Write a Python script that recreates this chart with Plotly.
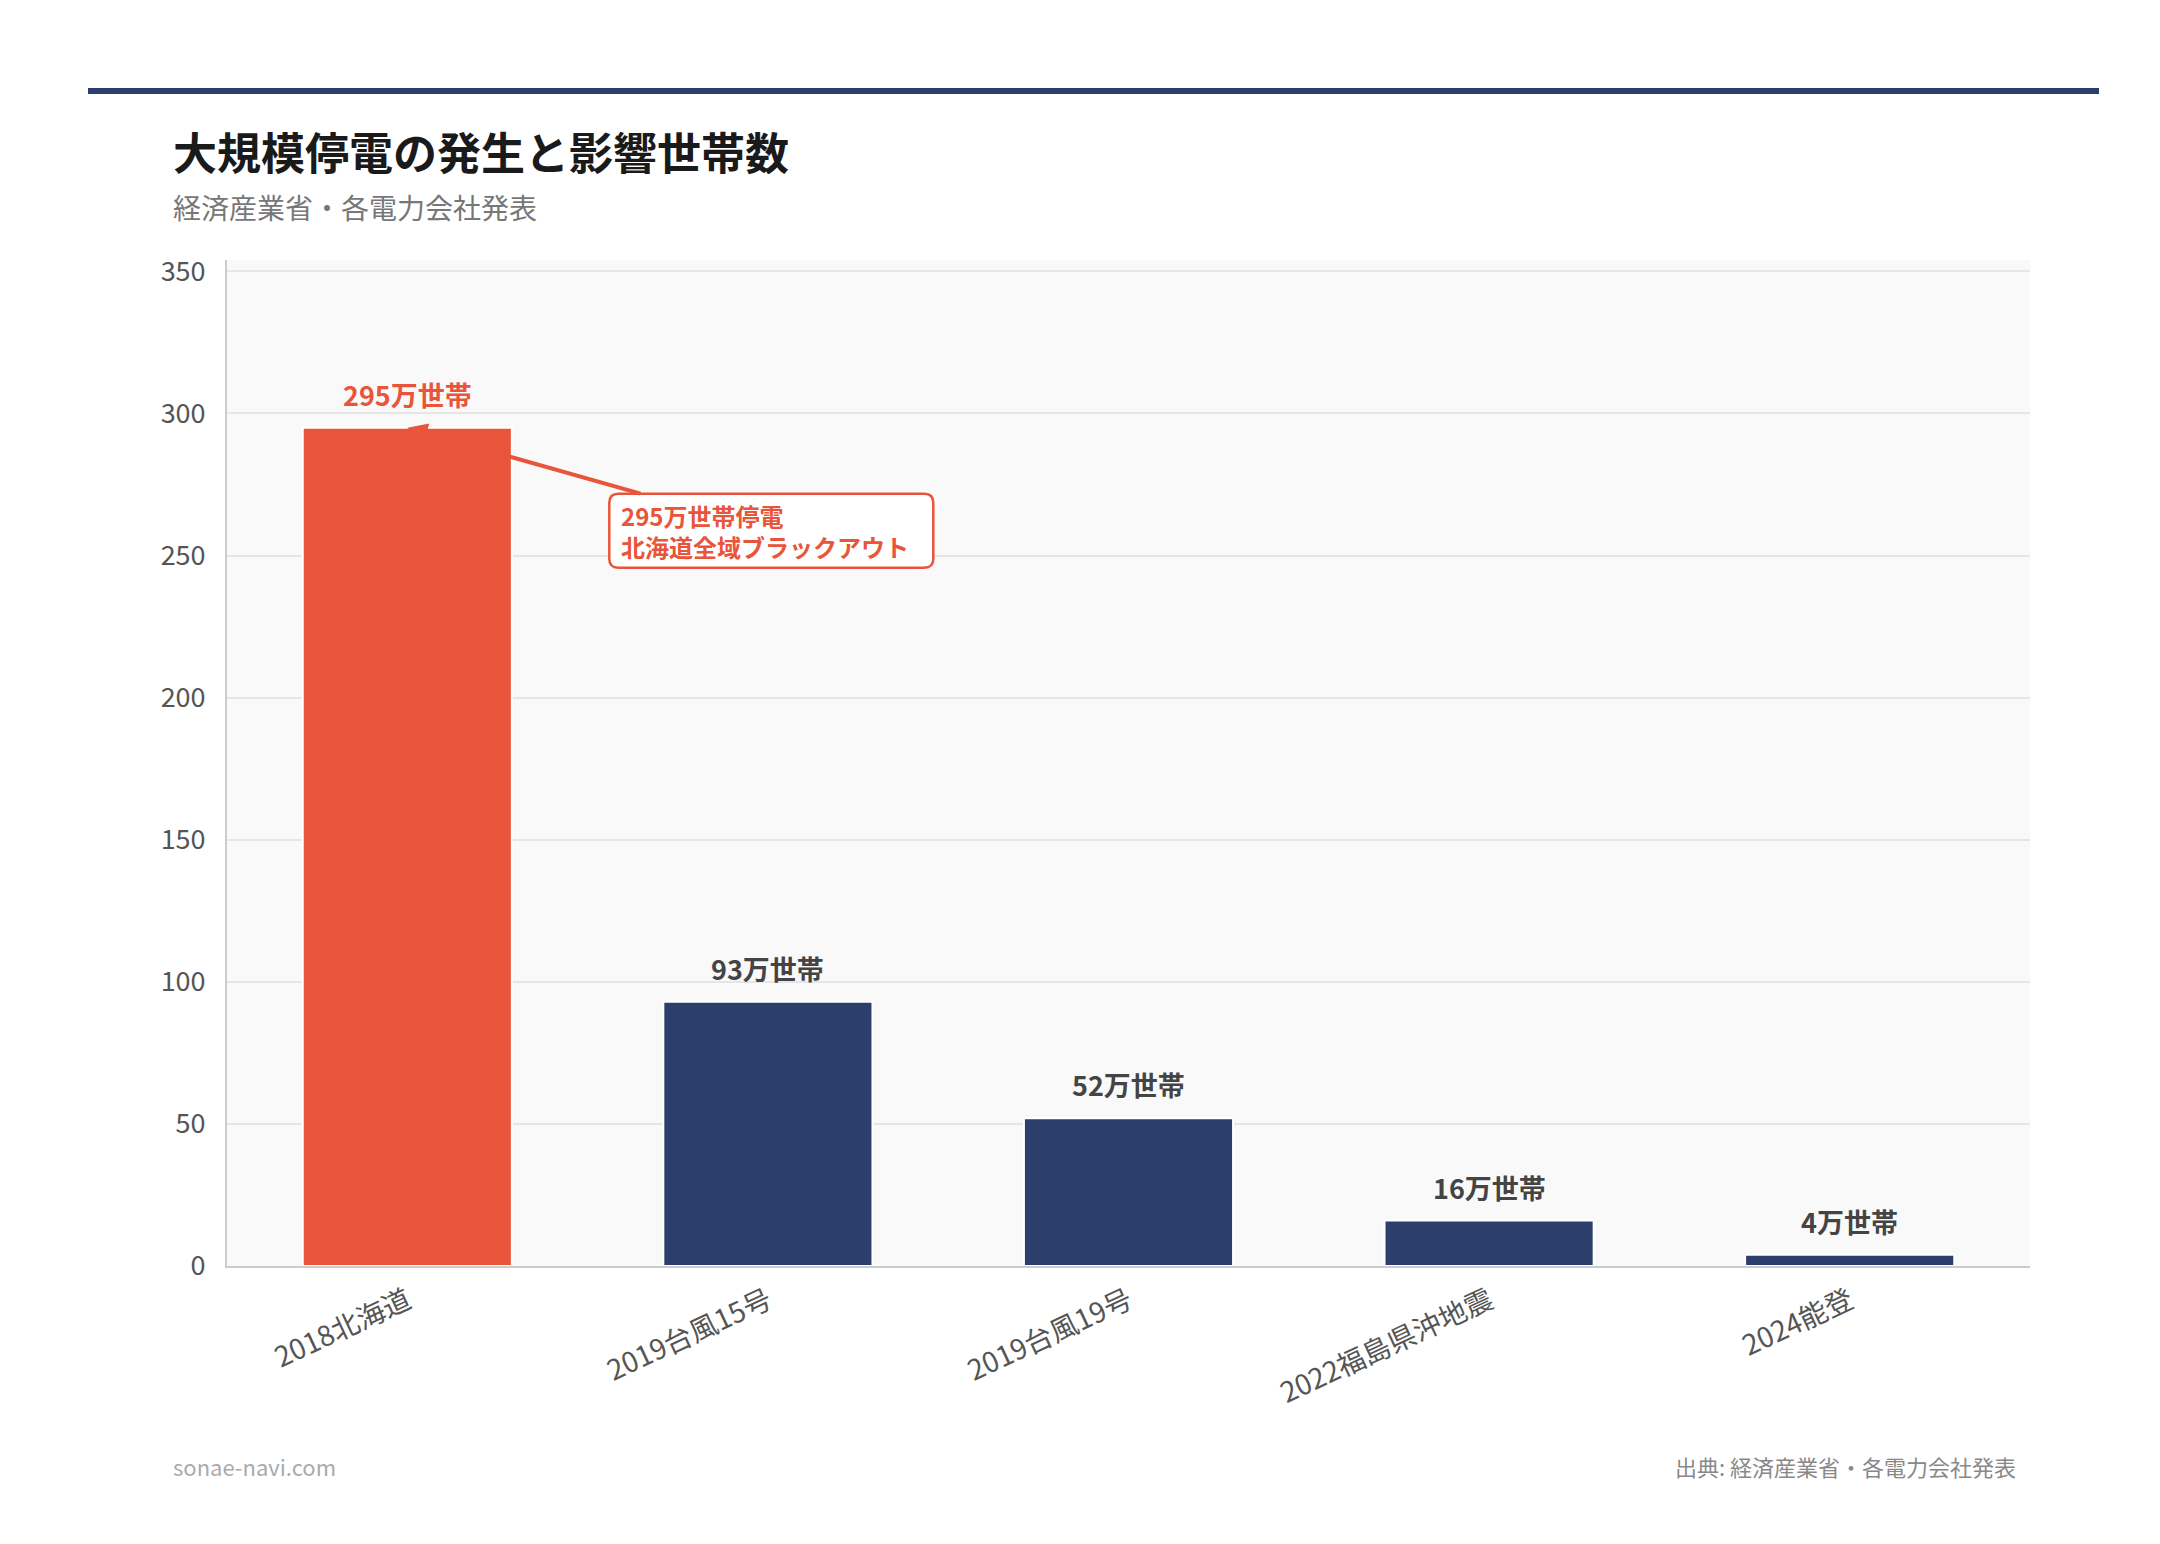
"""
Large-scale blackout events and number of affected households (bar chart).
"""

import plotly.graph_objects as go

# data (万世帯)
events = ['2018北海道', '2019台風15号', '2019台風19号', '2022福島県沖地震', '2024能登']
households = [295, 93, 52, 16, 4]
y_ticks = [0, 50, 100, 150, 200, 250, 300, 350]
callout_text = '295万世帯停電<br>北海道全域ブラックアウト'

RED = '#e8553a'
NAVY = '#2c3e6b'
FONT = 'Noto Sans CJK JP'

W, H = 2160, 1544
ML, MR, MT, MB = 219, 138, 252, 286
PW, PH = W - ML - MR, H - MT - MB


def px_x(px):
    # pixel -> paper x
    return (px - ML) / PW


def px_y(py):
    # pixel (from top) -> paper y
    return (H - MB - py) / PH


def rounded_box(cx, cy, w, h, r):
    # svg path of a rounded rect, pixel offsets (y up) around (cx, cy)
    x0, x1 = cx - w / 2, cx + w / 2
    y0, y1 = cy - h / 2, cy + h / 2
    return (f'M {x0 + r},{y1} L {x1 - r},{y1} Q {x1},{y1} {x1},{y1 - r} '
            f'L {x1},{y0 + r} Q {x1},{y0} {x1 - r},{y0} L {x0 + r},{y0} '
            f'Q {x0},{y0} {x0},{y0 + r} L {x0},{y1 - r} Q {x0},{y1} {x0 + r},{y1} Z')


colors = [RED if v == max(households) else NAVY for v in households]

fig = go.Figure()
fig.add_trace(go.Bar(
    x=events,
    y=households,
    marker=dict(color=colors, line=dict(color='white', width=2)),
    hoverinfo='x+y',
))

# value labels above bars
for ev, v, c in zip(events, households, colors):
    fig.add_annotation(
        x=ev, y=v, text=f'<b>{v}万世帯</b>', showarrow=False,
        yanchor='bottom', yshift=12,
        font=dict(family=FONT, size=27, color=RED if c == RED else '#444444'),
    )

# callout for the biggest one
AX, AY = 364, 103
BOX_W, BOX_H = 324, 74
fig.add_shape(
    type='path', xref='x', yref='y',
    xsizemode='pixel', ysizemode='pixel',
    xanchor=0, yanchor=households[0],
    path=rounded_box(AX, -AY, BOX_W, BOX_H, 9),
    line=dict(color=RED, width=2.5), fillcolor='white', layer='above',
)
fig.add_annotation(
    x=events[0], y=households[0], text=f'<b>{callout_text}</b>',
    showarrow=True, arrowhead=2, arrowsize=1, arrowwidth=4, arrowcolor=RED,
    ax=AX, ay=AY, align='left', valign='middle',
    width=BOX_W - 24, height=BOX_H - 12,
    bgcolor='rgba(0,0,0,0)', borderwidth=0, borderpad=6,
    font=dict(family=FONT, size=24, color=RED),
)

# title, subtitle, footer
fig.add_annotation(
    xref='paper', yref='paper', x=px_x(163), y=px_y(143),
    xanchor='left', yanchor='middle', showarrow=False,
    text='<b>大規模停電の発生と影響世帯数</b>',
    font=dict(family=FONT, size=44, color='#1a1a1a'),
)
fig.add_annotation(
    xref='paper', yref='paper', x=px_x(163), y=px_y(199),
    xanchor='left', yanchor='middle', showarrow=False,
    text='経済産業省・各電力会社発表',
    font=dict(family=FONT, size=28, color='#777777'),
)
fig.add_annotation(
    xref='paper', yref='paper', x=px_x(163), y=px_y(1458),
    xanchor='left', yanchor='middle', showarrow=False,
    text='sonae-navi.com',
    font=dict(family=FONT, size=22, color='#aaaaaa'),
)
fig.add_annotation(
    xref='paper', yref='paper', x=px_x(2010), y=px_y(1458),
    xanchor='right', yanchor='middle', showarrow=False,
    text='出典: 経済産業省・各電力会社発表',
    font=dict(family=FONT, size=22, color='#888888'),
)

# top rule
fig.add_shape(
    type='line', xref='paper', yref='paper',
    x0=px_x(80), x1=px_x(2091), y0=px_y(83), y1=px_y(83),
    line=dict(color=NAVY, width=6),
)

fig.update_layout(
    width=W, height=H,
    margin=dict(l=ML, r=MR, t=MT, b=MB, pad=0),
    paper_bgcolor='white',
    plot_bgcolor='#f9f9f9',
    bargap=0.42,
    showlegend=False,
    font=dict(family=FONT, color='#555555'),
)
fig.update_xaxes(
    tickangle=-25,
    tickfont=dict(family=FONT, size=28, color='#555555'),
    showline=True, linecolor='#cccccc', linewidth=2,
    ticks='outside', ticklen=6, tickcolor='rgba(0,0,0,0)',
    showgrid=False,
)
fig.update_yaxes(
    range=[0, max(households) * 1.2],
    tickvals=y_ticks,
    tickfont=dict(family=FONT, size=27, color='#555555'),
    showline=True, linecolor='#cccccc', linewidth=2,
    ticks='outside', ticklen=14, tickcolor='rgba(0,0,0,0)',
    gridcolor='#e6e6e6', gridwidth=2,
    zeroline=False,
)

fig.write_html('out.html')
